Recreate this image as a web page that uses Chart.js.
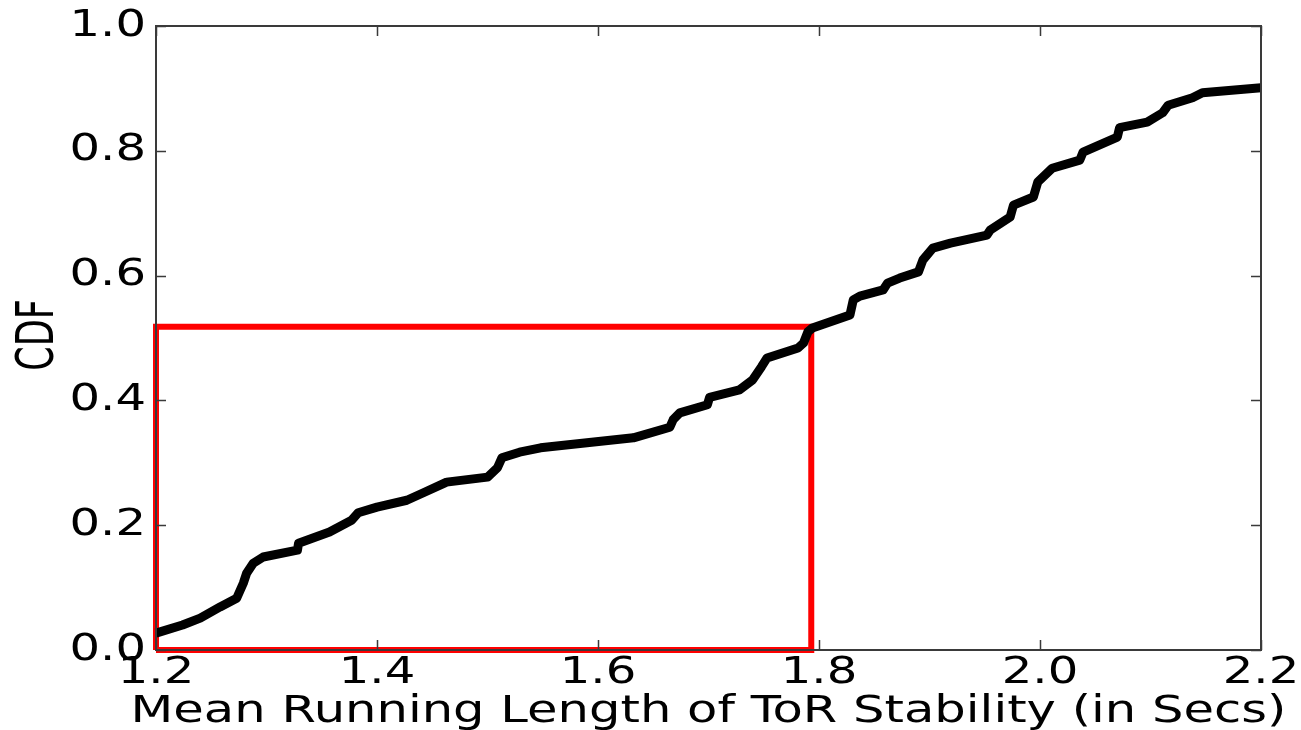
<!DOCTYPE html>
<html>
<head>
<meta charset="utf-8">
<script src="https://cdn.jsdelivr.net/npm/chart.js@4/dist/chart.umd.min.js"></script>
<style>
  html, body { margin: 0; padding: 0; background: #fff; }
  #wrap { width: 1301px; height: 730px; }
</style>
</head>
<body>
<div id="wrap"><canvas id="cdfChart" width="1301" height="730"></canvas></div>
<script>
// CDF curve
const cdfX = [1.200, 1.224, 1.240, 1.258, 1.273, 1.279, 1.282, 1.288, 1.297, 1.328,
  1.329, 1.357, 1.377, 1.383, 1.400, 1.427, 1.442, 1.463, 1.500, 1.509,
  1.513, 1.529, 1.548, 1.632, 1.665, 1.668, 1.674, 1.699, 1.701, 1.728,
  1.740, 1.748, 1.753, 1.781, 1.786, 1.790, 1.794, 1.828, 1.831, 1.837,
  1.858, 1.862, 1.873, 1.890, 1.894, 1.903, 1.919, 1.952, 1.955, 1.973,
  1.976, 1.994, 1.998, 2.011, 2.036, 2.039, 2.070, 2.072, 2.097, 2.111,
  2.116, 2.138, 2.147, 2.200];
const cdfY = [0.027, 0.040, 0.051, 0.069, 0.083, 0.107, 0.123, 0.139, 0.149, 0.160,
  0.171, 0.189, 0.208, 0.220, 0.229, 0.240, 0.252, 0.269, 0.277, 0.292,
  0.308, 0.317, 0.324, 0.340, 0.357, 0.369, 0.380, 0.393, 0.405, 0.417,
  0.433, 0.454, 0.468, 0.484, 0.492, 0.510, 0.516, 0.537, 0.561, 0.567,
  0.577, 0.588, 0.596, 0.606, 0.625, 0.644, 0.652, 0.665, 0.673, 0.694,
  0.713, 0.726, 0.750, 0.772, 0.785, 0.798, 0.822, 0.837, 0.846, 0.861,
  0.873, 0.885, 0.893, 0.901];

// highlighted box corners
const boxX = [1.2, 1.2, 1.793, 1.793, 1.2];
const boxY = [0, 0.518, 0.518, 0, 0];

const xTicks = [1.2, 1.4, 1.6, 1.8, 2.0, 2.2];
const yTicks = [0.0, 0.2, 0.4, 0.6, 0.8, 1.0];
const xTitle = 'Mean Running Length of ToR Stability (in Secs)';
const yTitle = 'CDF';

const FONT = '"DejaVu Sans", sans-serif';
const STRETCH = 1.3; // text in the picture is wider than normal

// frame, inward ticks and all the labels
const axesPlugin = {
  id: 'axesPlugin',
  afterDraw(chart) {
    const ctx = chart.ctx;
    const a = chart.chartArea;
    const xs = chart.scales.x, ys = chart.scales.y;
    ctx.save();
    ctx.strokeStyle = '#3a3a3a';
    ctx.lineWidth = 1.5;
    xTicks.forEach(v => {
      const px = Math.round(xs.getPixelForValue(v)) + 0.5;
      ctx.beginPath();
      ctx.moveTo(px, a.bottom); ctx.lineTo(px, a.bottom - 10);
      ctx.moveTo(px, a.top); ctx.lineTo(px, a.top + 10);
      ctx.stroke();
    });
    yTicks.forEach(v => {
      const py = Math.round(ys.getPixelForValue(v)) + 0.5;
      ctx.beginPath();
      ctx.moveTo(a.left, py); ctx.lineTo(a.left + 10, py);
      ctx.moveTo(a.right, py); ctx.lineTo(a.right - 10, py);
      ctx.stroke();
    });
    ctx.lineWidth = 2;
    ctx.strokeRect(a.left, a.top, a.right - a.left, a.bottom - a.top);

    ctx.fillStyle = '#000';
    ctx.font = '37px ' + FONT;
    ctx.textBaseline = 'middle';
    ctx.textAlign = 'right';
    yTicks.forEach(v => {
      ctx.save();
      ctx.translate(a.left - 10, ys.getPixelForValue(v));
      ctx.scale(STRETCH, 1);
      ctx.fillText(v.toFixed(1), 0, 0);
      ctx.restore();
    });
    ctx.textAlign = 'center';
    ctx.textBaseline = 'top';
    xTicks.forEach(v => {
      ctx.save();
      ctx.translate(xs.getPixelForValue(v), a.bottom + 5);
      ctx.scale(STRETCH, 1);
      ctx.fillText(v.toFixed(1), 0, 0);
      ctx.restore();
    });

    ctx.textBaseline = 'alphabetic';
    ctx.save();
    ctx.translate((a.left + a.right) / 2, a.bottom + 72);
    ctx.scale(1.34, 1);
    ctx.fillText(xTitle, 0, 0);
    ctx.restore();

    ctx.font = '35px ' + FONT;
    ctx.textBaseline = 'middle';
    ctx.save();
    ctx.translate(40, (a.top + a.bottom) / 2 - 3);
    ctx.rotate(-Math.PI / 2);
    ctx.scale(1, 1.45);
    ctx.fillText(yTitle, 0, 0);
    ctx.restore();
    ctx.restore();
  }
};

const curvePoints = cdfX.map((x, i) => ({ x: x, y: cdfY[i] }));
const boxPoints = boxX.map((x, i) => ({ x: x, y: boxY[i] }));

new Chart(document.getElementById('cdfChart').getContext('2d'), {
  type: 'line',
  data: {
    datasets: [
      {
        data: curvePoints,
        borderColor: '#000',
        borderWidth: 9,
        borderJoinStyle: 'round',
        pointRadius: 0,
        tension: 0,
        fill: false,
        clip: false,
        order: 1
      },
      {
        data: boxPoints,
        borderColor: '#ff0000',
        borderWidth: 6,
        borderJoinStyle: 'miter',
        pointRadius: 0,
        tension: 0,
        fill: false,
        clip: false,
        order: 2
      }
    ]
  },
  options: {
    responsive: false,
    animation: false,
    layout: { padding: { left: 156, right: 40, top: 26, bottom: 80 } },
    plugins: { legend: { display: false }, tooltip: { enabled: false } },
    scales: {
      x: { type: 'linear', min: 1.2, max: 2.2, display: false },
      y: { type: 'linear', min: 0, max: 1, display: false }
    }
  },
  plugins: [axesPlugin]
});
</script>
</body>
</html>
